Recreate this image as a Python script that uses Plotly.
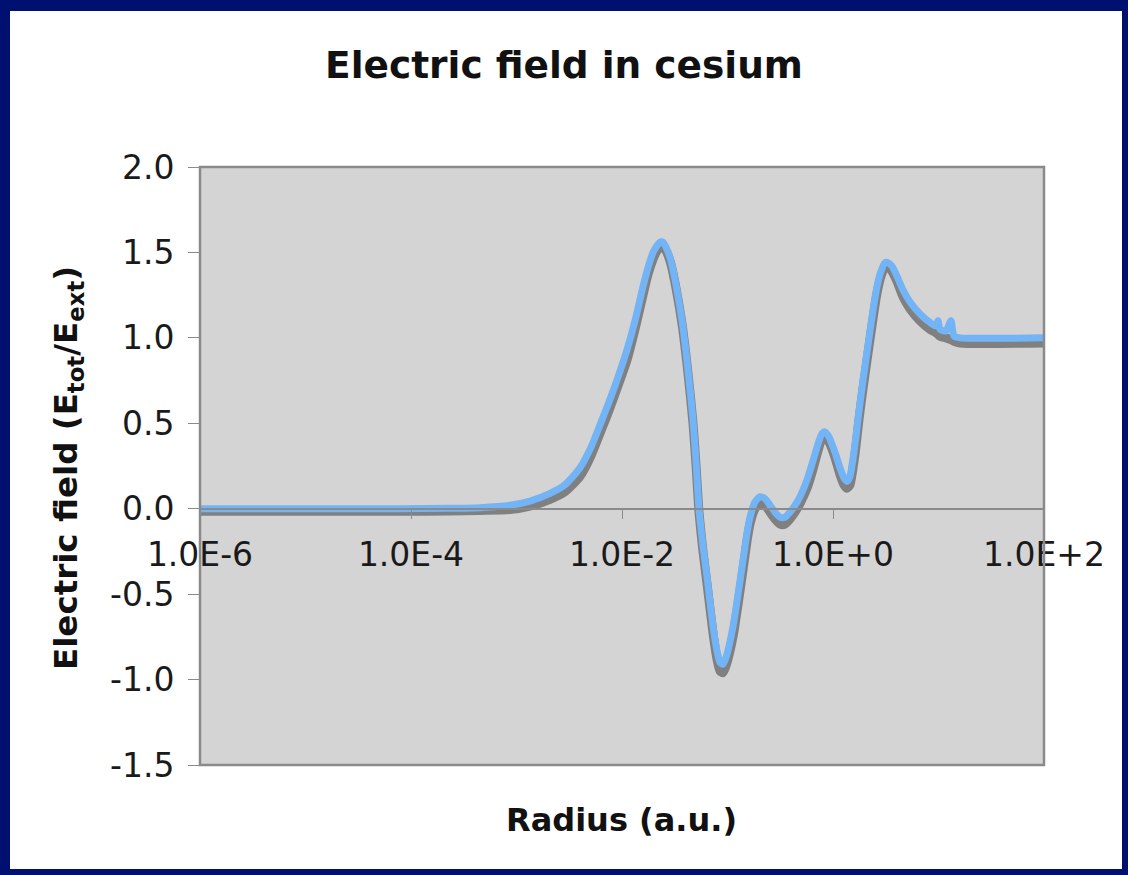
import plotly.graph_objects as go

# log10 of radius (a.u.) at each sample point
log10_radius = [-6.000, -5.052, -4.104, -3.630, -3.346, -3.062, -2.872, -2.682, -2.540, -2.398,
                -2.294, -2.190, -2.114, -2.038, -1.953, -1.877, -1.801, -1.754, -1.706, -1.668,
                -1.640, -1.611, -1.583, -1.545, -1.517, -1.479, -1.431, -1.374, -1.327, -1.299,
                -1.270, -1.232, -1.194, -1.137, -1.100, -1.071, -1.043, -1.014, -0.948, -0.900,
                -0.853, -0.815, -0.787, -0.739, -0.692, -0.645, -0.597, -0.550, -0.502, -0.455,
                -0.408, -0.360, -0.313, -0.246, -0.190, -0.142, -0.104, -0.076, -0.038, 0.019,
                0.066, 0.104, 0.133, 0.161, 0.209, 0.246, 0.284, 0.332, 0.379, 0.417,
                0.455, 0.493, 0.521, 0.559, 0.607, 0.664, 0.730, 0.825, 0.919, 0.976,
                0.995, 1.014, 1.071, 1.118, 1.147, 1.204, 2.000]

# Light blue series (E_tot/E_ext)
field_blue = [0.0, 0.0, 0.0, 0.002, 0.006, 0.02, 0.045, 0.09, 0.14, 0.24,
              0.36, 0.52, 0.64, 0.77, 0.93, 1.10, 1.30, 1.41, 1.50, 1.54,
              1.56, 1.56, 1.53, 1.47, 1.40, 1.28, 1.10, 0.81, 0.52, 0.28,
              0.0, -0.22, -0.40, -0.69, -0.83, -0.90, -0.91, -0.87, -0.69, -0.50,
              -0.30, -0.14, -0.05, 0.04, 0.07, 0.06, 0.02, -0.02, -0.05, -0.05,
              -0.02, 0.02, 0.07, 0.17, 0.28, 0.38, 0.44, 0.45, 0.42, 0.33,
              0.24, 0.18, 0.16, 0.19, 0.38, 0.57, 0.75, 0.96, 1.16, 1.30,
              1.39, 1.44, 1.44, 1.42, 1.36, 1.28, 1.21, 1.14, 1.09, 1.07,
              1.10, 1.05, 1.04, 1.10, 1.01, 1.0, 1.0]

# Grey series (E_tot/E_ext)
field_grey = [-0.015, -0.015, -0.015, -0.013, -0.01, -0.005, 0.015, 0.055, 0.10, 0.19,
              0.31, 0.47, 0.59, 0.72, 0.87, 1.05, 1.25, 1.37, 1.46, 1.51,
              1.53, 1.53, 1.51, 1.45, 1.38, 1.26, 1.08, 0.79, 0.50, 0.26,
              -0.02, -0.25, -0.44, -0.73, -0.88, -0.95, -0.96, -0.92, -0.75, -0.56,
              -0.36, -0.19, -0.09, 0.00, 0.03, 0.02, -0.02, -0.06, -0.09, -0.09,
              -0.06, -0.02, 0.03, 0.12, 0.23, 0.34, 0.41, 0.42, 0.39, 0.30,
              0.20, 0.14, 0.12, 0.14, 0.32, 0.52, 0.70, 0.91, 1.11, 1.26,
              1.36, 1.41, 1.41, 1.39, 1.33, 1.24, 1.17, 1.10, 1.05, 1.03,
              1.02, 1.01, 1.00, 0.99, 0.98, 0.97, 0.97]

radius = [10 ** v for v in log10_radius]

x_tick_vals = [1e-6, 1e-4, 1e-2, 1e0, 1e2]
x_tick_text = ["1.0E-6", "1.0E-4", "1.0E-2", "1.0E+0", "1.0E+2"]
y_tick_vals = [-1.5, -1.0, -0.5, 0.0, 0.5, 1.0, 1.5, 2.0]
y_tick_text = ["-1.5", "-1.0", "-0.5", "0.0", "0.5", "1.0", "1.5", "2.0"]

W, H = 1128, 875
L, R, T, B = 200, 84, 167, 110
PW, PH = W - L - R, H - T - B


def px(x):
    return (x - L) / PW


def py(y):
    return (H - B - y) / PH


FONT = "DejaVu Sans"
NAVY = "#001070"

fig = go.Figure()
fig.add_trace(go.Scatter(x=radius, y=field_grey, mode="lines",
                         line=dict(color="#808080", width=9, shape="spline", smoothing=0.6),
                         showlegend=False, hoverinfo="skip"))
fig.add_trace(go.Scatter(x=radius, y=field_blue, mode="lines",
                         line=dict(color="#72b4f5", width=7, shape="spline", smoothing=0.6),
                         showlegend=False, hoverinfo="skip"))

y0_pos = (0 - (-1.5)) / 3.5

fig.update_layout(
    width=W, height=H,
    margin=dict(l=L, r=R, t=T, b=B, pad=0),
    paper_bgcolor="white",
    plot_bgcolor="#d4d4d4",
    font=dict(family=FONT, color="#1a1a1a", size=33),
    title=dict(text="<b>Electric field in cesium</b>", x=0.5, xref="container",
               y=1 - 65 / H, yref="container", yanchor="middle", xanchor="center",
               font=dict(family=FONT, size=37.5, color="#111111")),
    xaxis=dict(type="log", range=[-6, 2], anchor="free", position=y0_pos,
               tickvals=x_tick_vals, ticktext=x_tick_text,
               ticks="outside", ticklen=9, tickcolor="#8a8a8a", tickwidth=1,
               ticklabelstandoff=8,
               showline=True, linecolor="#8a8a8a", linewidth=2,
               showgrid=False, zeroline=False,
               tickfont=dict(family=FONT, size=33, color="#1a1a1a")),
    yaxis=dict(range=[-1.5, 2.0], tickvals=y_tick_vals, ticktext=y_tick_text,
               ticks="outside", ticklen=11, tickcolor="#8a8a8a", tickwidth=1,
               ticklabelstandoff=7,
               showline=False, showgrid=False, zeroline=False,
               tickfont=dict(family=FONT, size=33, color="#1a1a1a")),
)

shapes = [
    # plot frame
    dict(type="rect", xref="paper", yref="paper", x0=0, x1=1, y0=0, y1=1,
         line=dict(color="#8a8a8a", width=2.5), fillcolor="rgba(0,0,0,0)", layer="above"),
    # navy outer border
    dict(type="rect", xref="paper", yref="paper", x0=px(0), x1=px(10), y0=py(H), y1=py(0),
         line=dict(width=0), fillcolor=NAVY),
    dict(type="rect", xref="paper", yref="paper", x0=px(1122), x1=px(W), y0=py(H), y1=py(0),
         line=dict(width=0), fillcolor=NAVY),
    dict(type="rect", xref="paper", yref="paper", x0=px(0), x1=px(W), y0=py(11), y1=py(0),
         line=dict(width=0), fillcolor=NAVY),
    dict(type="rect", xref="paper", yref="paper", x0=px(0), x1=px(W), y0=py(H), y1=py(869),
         line=dict(width=0), fillcolor=NAVY),
]
fig.update_layout(shapes=shapes)

fig.add_annotation(text="<b>Radius (a.u.)</b>", xref="paper", yref="paper",
                   x=px(621), y=py(820), xanchor="center", yanchor="middle",
                   showarrow=False, font=dict(family=FONT, size=32, color="#111111"))
fig.add_annotation(text="<b>Electric field (E<sub>tot</sub>/E<sub>ext</sub>)</b>",
                   xref="paper", yref="paper", x=px(68), y=py(468),
                   xanchor="center", yanchor="middle", textangle=-90,
                   showarrow=False, font=dict(family=FONT, size=32.5, color="#111111"))

fig.write_html("out.html", config={"displayModeBar": False},
               post_script="document.body.style.margin='0';document.body.style.overflow='hidden';")
